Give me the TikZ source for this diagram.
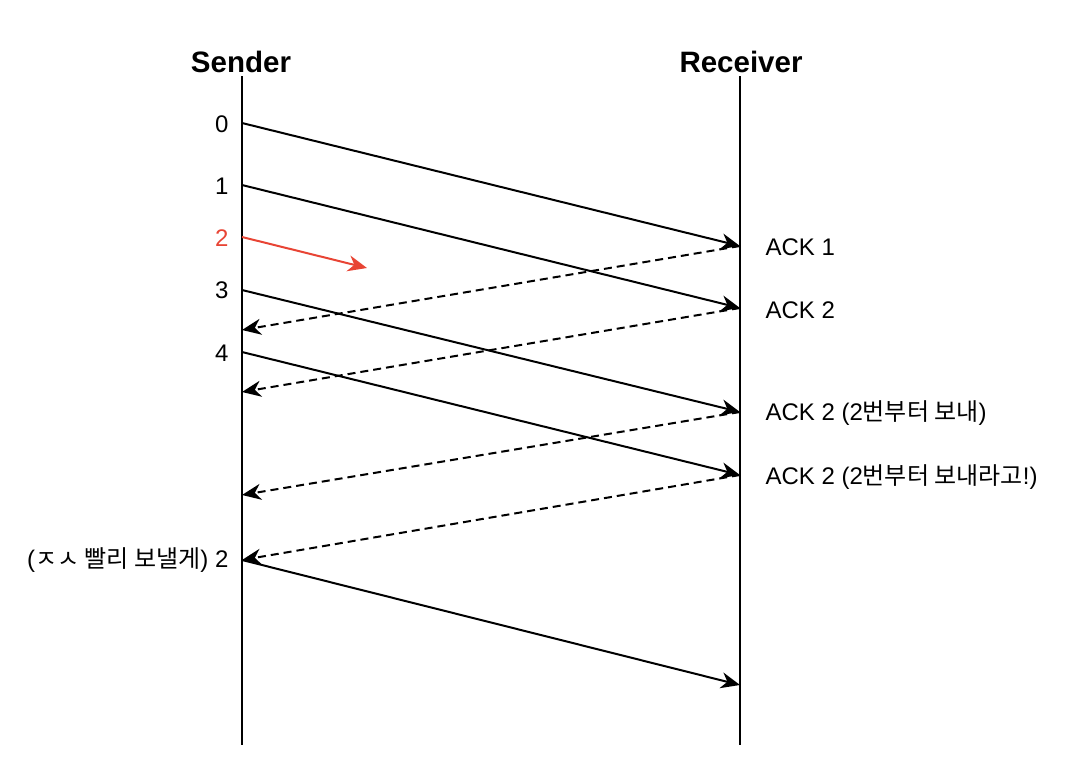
\documentclass[tikz,border=0pt]{standalone}
\usepackage{fontspec}
\setmainfont{Liberation Sans}
\newfontfamily\krfont{Noto Sans CJK KR}
\usetikzlibrary{arrows.meta}
\definecolor{lostred}{RGB}{232,68,52}

\begin{document}
\begin{tikzpicture}[
  x=1pt, y=-1pt,
  actor/.style={font=\fontsize{29.5}{32}\selectfont\bfseries},
  lbl/.style={font=\fontsize{24}{28}\selectfont},
  life/.style={line width=2pt},
  msg/.style={-{Stealth[length=19pt,width=16pt,inset=6pt]}, line width=2pt},
  ack/.style={msg, dash pattern=on 8pt off 5pt}
]
\useasboundingbox (0,0) rectangle (1070,770);

% 생명선
\node[actor] (sender) at (241,62) {Sender};
\node[actor] (receiver) at (741,62) {Receiver};
\coordinate (sbot) at (242,745);
\coordinate (rbot) at (740,745);
\draw[life] (sender.south -| sbot) -- (sbot);
\draw[life] (receiver.south -| rbot) -- (rbot);

% 송신 시점 (Sender)
\coordinate (s0) at (242,123);
\coordinate (s1) at (242,185);
\coordinate (s2) at (242,237);
\coordinate (s3) at (242,290);
\coordinate (s4) at (242,352);
\coordinate (a1) at (242,330);
\coordinate (a2) at (242,392);
\coordinate (a3) at (242,495);
\coordinate (a4) at (242,560);
\coordinate (lost) at (367,268);

% 수신 시점 (Receiver)
\coordinate (r0) at (740,246);
\coordinate (r1) at (740,308);
\coordinate (r3) at (740,412);
\coordinate (r4) at (740,475);
\coordinate (r5) at (740,685);

% 번호
\node[lbl, anchor=east] (n0) at (232,124) {0};
\node[lbl, anchor=east] (n1) at (232,186) {1};
\node[lbl, anchor=east, text=lostred] (n2) at (232,238) {2};
\node[lbl, anchor=east] (n3) at (232,290) {3};
\node[lbl, anchor=east] (n4) at (232,353) {4};
\node[lbl, anchor=east] (resend) at (232,560) {({\krfont ㅈㅅ 빨리 보낼게}) 2};

% 데이터 전송
\draw[msg] (s0) -- (r0);
\draw[msg] (s1) -- (r1);
\draw[msg, lostred] (s2) -- (lost);
\draw[msg] (s3) -- (r3);
\draw[msg] (s4) -- (r4);
\draw[msg] (a4) -- (r5);

% ACK (점선)
\draw[ack] (r0) -- (a1);
\draw[ack] (r1) -- (a2);
\draw[ack] (r3) -- (a3);
\draw[ack] (r4) -- (a4);

% ACK 라벨
\node[lbl, anchor=west] (ack1) at (762,247) {ACK 1};
\node[lbl, anchor=west] (ack2) at (762,310) {ACK 2};
\node[lbl, anchor=west] (ack3) at (762,413) {ACK 2 (2{\krfont 번부터 보내})};
\node[lbl, anchor=west] (ack4) at (762,477) {ACK 2 (2{\krfont 번부터 보내라고}!)};

\end{tikzpicture}
\end{document}
